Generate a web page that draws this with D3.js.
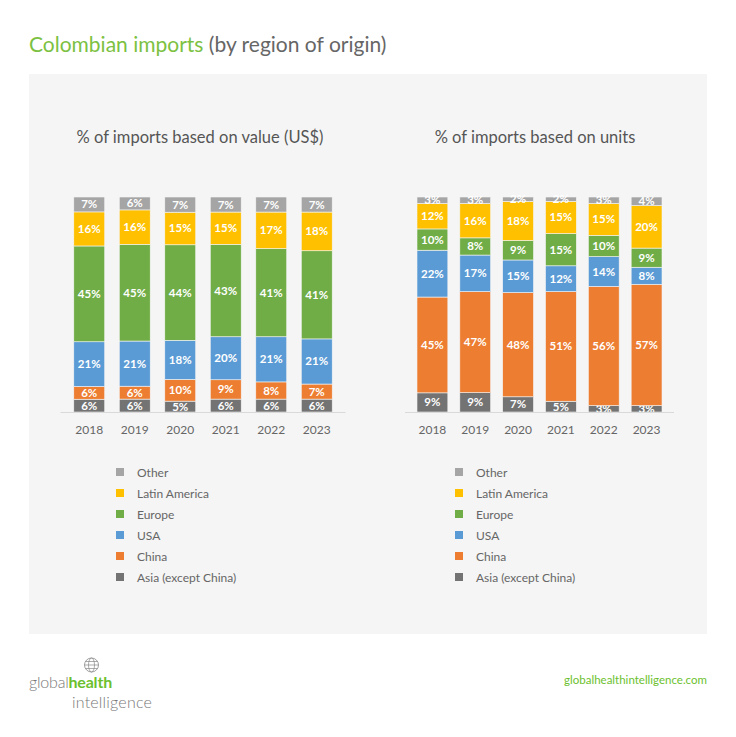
<!DOCTYPE html>
<meta charset="utf-8">
<head>
  <title>Colombian imports</title>
  <script src="https://d3js.org/d3.v7.min.js"></script>
  <style>
    body { margin: 0; background: #fff; }
    text { font-family: Lato, "Open Sans", sans-serif; }
    .bar-label { fill: #fff; font-size: 11.5px; font-weight: bold; text-anchor: middle; }
    .year { fill: #666; font-size: 12px; text-anchor: middle; }
    .legend text { fill: #666; font-size: 12px; }
  </style>
</head>
<body>
<div id="chart"></div>
<script>

var years = ["2018", "2019", "2020", "2021", "2022", "2023"];
var regions = ["Asia (except China)", "China", "USA", "Europe", "Latin America", "Other"];
var colors = ["#737373", "#ed7d31", "#5b9bd5", "#70ad47", "#ffc000", "#a5a5a5"];

// % of imports based on value (US$), bottom to top
var valueAsia   = [6, 6, 5, 6, 6, 6];
var valueChina  = [6, 6, 10, 9, 8, 7];
var valueUSA    = [21, 21, 18, 20, 21, 21];
var valueEurope = [45, 45, 44, 43, 41, 41];
var valueLatam  = [16, 16, 15, 15, 17, 18];
var valueOther  = [7, 6, 7, 7, 7, 7];

// % of imports based on units
var unitsAsia   = [9, 9, 7, 5, 3, 3];
var unitsChina  = [45, 47, 48, 51, 56, 57];
var unitsUSA    = [22, 17, 15, 12, 14, 8];
var unitsEurope = [10, 8, 9, 15, 10, 9];
var unitsLatam  = [12, 16, 18, 15, 15, 20];
var unitsOther  = [3, 3, 2, 2, 3, 4];

var W = 736, H = 737;

var svg = d3.select("#chart").append("svg")
    .attr("width", W)
    .attr("height", H);

svg.append("rect")
    .attr("x", 29).attr("y", 74)
    .attr("width", 678).attr("height", 560)
    .attr("fill", "#f5f5f5");

var title = svg.append("text")
    .attr("x", 29).attr("y", 52)
    .style("font-size", "21px");
title.append("tspan").attr("fill", "#7cc142").text("Colombian imports ");
title.append("tspan").attr("fill", "#666").text("(by region of origin)");

function buildRows(series) {
  return years.map(function(y, i) {
    var row = {year: y};
    regions.forEach(function(r, k) { row[r] = series[k][i]; });
    return row;
  });
}

function drawPanel(opts) {
  var g = svg.append("g");
  var rows = buildRows(opts.series);

  var x = d3.scaleBand()
      .domain(years)
      .range([opts.x0, opts.x1])
      .paddingInner(opts.pad)
      .paddingOuter(opts.pad / 2);

  var y = d3.scaleLinear().domain([0, 1]).range([412, 197]);

  var stack = d3.stack().keys(regions).offset(d3.stackOffsetExpand);
  var layers = stack(rows);

  g.append("text")
      .attr("x", opts.titleX).attr("y", 143)
      .attr("text-anchor", "middle")
      .attr("fill", "#555")
      .style("font-size", "16.5px")
      .text(opts.title);

  var layer = g.selectAll("g.layer")
      .data(layers)
    .enter().append("g")
      .attr("class", "layer")
      .attr("fill", function(d, i) { return colors[i]; });

  layer.selectAll("rect")
      .data(function(d) { return d; })
    .enter().append("rect")
      .attr("x", function(d) { return x(d.data.year); })
      .attr("y", function(d) { return y(d[1]); })
      .attr("width", x.bandwidth())
      .attr("height", function(d) { return y(d[0]) - y(d[1]); })
      .attr("stroke", "#f5f5f5")
      .attr("stroke-width", 0.6);

  layer.each(function(L) {
    var key = L.key;
    d3.select(this).selectAll("text")
        .data(L)
      .enter().append("text")
        .attr("class", "bar-label")
        .attr("x", function(d) { return x(d.data.year) + x.bandwidth() / 2; })
        .attr("y", function(d) { return (y(d[0]) + y(d[1])) / 2 + 4; })
        .text(function(d) { return d.data[key] + "%"; });
  });

  g.append("line")
      .attr("x1", opts.x0 - 6).attr("x2", opts.x1 + 6)
      .attr("y1", 412.5).attr("y2", 412.5)
      .attr("stroke", "#d9d9d9");

  g.selectAll("text.year")
      .data(years)
    .enter().append("text")
      .attr("class", "year")
      .attr("x", function(d) { return x(d) + x.bandwidth() / 2; })
      .attr("y", 434)
      .text(function(d) { return d; });

  var legend = g.append("g").attr("class", "legend");
  var order = regions.slice().reverse();
  var item = legend.selectAll("g")
      .data(order)
    .enter().append("g")
      .attr("transform", function(d, i) { return "translate(" + opts.legendX + "," + (472 + i * 21) + ")"; });
  item.append("rect")
      .attr("x", 0).attr("y", -4)
      .attr("width", 8).attr("height", 8)
      .attr("fill", function(d) { return colors[regions.indexOf(d)]; });
  item.append("text")
      .attr("x", 21).attr("y", 4.5)
      .text(function(d) { return d; });
}

drawPanel({
  series: [valueAsia, valueChina, valueUSA, valueEurope, valueLatam, valueOther],
  x0: 66.5, x1: 339.5, pad: 0.32,
  title: "% of imports based on value (US$)", titleX: 200,
  legendX: 116
});

drawPanel({
  series: [unitsAsia, unitsChina, unitsUSA, unitsEurope, unitsLatam, unitsOther],
  x0: 411, x1: 668, pad: 0.28,
  title: "% of imports based on units", titleX: 535,
  legendX: 455
});

// footer
var logo = svg.append("g");
logo.append("circle")
    .attr("cx", 91.5).attr("cy", 665).attr("r", 7)
    .attr("fill", "none").attr("stroke", "#888").attr("stroke-width", 0.8);
logo.append("ellipse")
    .attr("cx", 91.5).attr("cy", 665).attr("rx", 3).attr("ry", 7)
    .attr("fill", "none").attr("stroke", "#888").attr("stroke-width", 0.7);
[-3.5, 0, 3.5].forEach(function(dy) {
  var hw = Math.sqrt(49 - dy * dy);
  logo.append("line")
      .attr("x1", 91.5 - hw).attr("x2", 91.5 + hw)
      .attr("y1", 665 + dy).attr("y2", 665 + dy)
      .attr("stroke", "#888").attr("stroke-width", 0.7);
});
var l1 = logo.append("text").attr("x", 29).attr("y", 688).style("font-size", "16px").style("letter-spacing", "-0.2px");
l1.append("tspan").attr("fill", "#777").style("font-weight", "300").text("global");
l1.append("tspan").attr("fill", "#6cbf2e").style("font-weight", "bold").text("health");
logo.append("text").attr("x", 72).attr("y", 708)
    .style("font-size", "16px").style("font-weight", "300").style("letter-spacing", "0.2px")
    .attr("fill", "#777").text("intelligence");

svg.append("text")
    .attr("x", 707).attr("y", 684)
    .attr("text-anchor", "end")
    .attr("fill", "#6cbf2e")
    .style("font-size", "11.5px")
    .text("globalhealthintelligence.com");

</script>
</body>
